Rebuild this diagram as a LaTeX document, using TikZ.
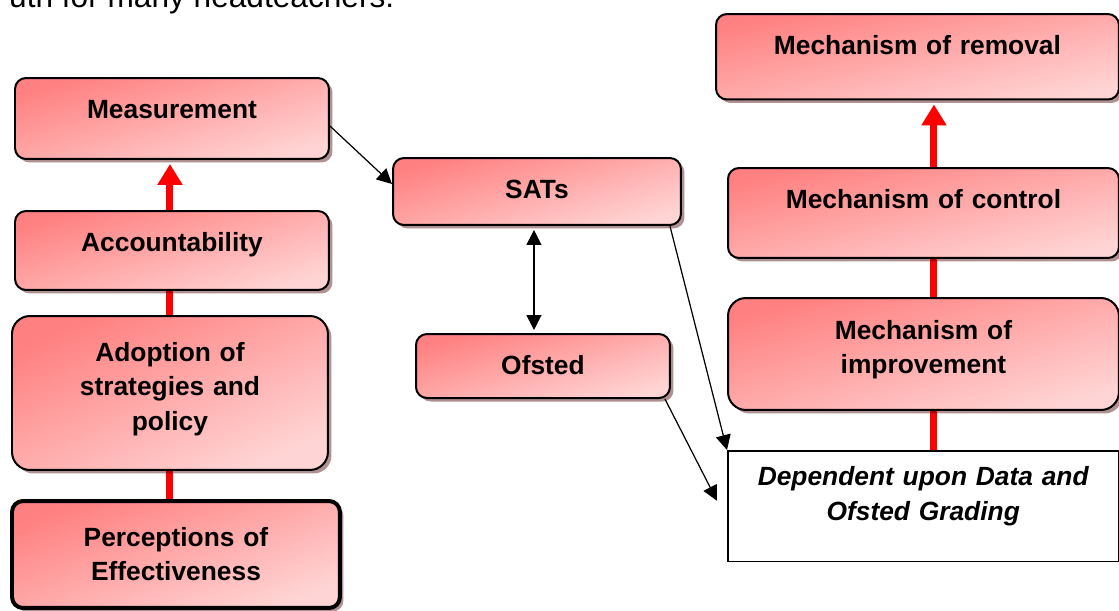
\documentclass[tikz,border=0pt]{standalone}
\usepackage{fontspec}
\setmainfont{Liberation Sans}
\usetikzlibrary{arrows.meta,shadows,backgrounds}
\definecolor{boxdark}{RGB}{255,128,128}
\definecolor{boxlight}{RGB}{255,212,212}
\definecolor{shadowc}{RGB}{80,10,10}
\definecolor{linkred}{RGB}{255,0,0}
\begin{document}
\begin{tikzpicture}
	[x=0.02cm, y=-0.02cm,
	>={Triangle[length=0.3cm, width=0.3cm]},
	box/.style={draw, line width=0.04cm, rounded corners=0.22cm,
		top color=boxdark, bottom color=boxlight, shading angle=16,
		drop shadow={shadow xshift=0.07cm, shadow yshift=-0.07cm,
			fill=shadowc, opacity=0.45},
		anchor=north west, inner xsep=0pt, inner ysep=0pt, align=center,
		text height=0.8cm, font=\fontsize{15}{19.5}\selectfont\bfseries},
	plainbox/.style={draw, line width=0.03cm, fill=white,
		anchor=north west, inner xsep=0pt, inner ysep=0pt, align=center,
		text height=0.7cm, font=\fontsize{15}{19.5}\selectfont\bfseries\itshape},
	rise/.style={line width=0.14cm, draw=linkred},
	risearrow/.style={rise, -{Triangle[length=0.42cm, width=0.48cm]},
		shorten >=0.08cm},
	link/.style={line width=0.7pt}]
	\useasboundingbox (0,0) rectangle (1119,610);
	\node[anchor=base west, font=\fontsize{18}{22}\selectfont] (intro) at (3,7)
		{uth for many headteachers.};
	\node[box, text width=6.28cm, text depth=0.82cm] (meas) at (14,77) {Measurement};
	\node[box, text width=6.28cm, text depth=0.78cm] (acc) at (14,210) {Accountability};
	\node[box, text width=6.32cm, text height=0.91cm, text depth=2.17cm,
		rounded corners=0.36cm, shading angle=24] (adopt) at (11,315)
		{Adoption of\\strategies and\\policy};
	\node[box, line width=0.08cm, text width=6.56cm, text height=0.91cm,
		text depth=1.23cm, shading angle=20] (perc) at (10,499) {Perceptions of\\Effectiveness};
	\node[box, text width=5.76cm, text depth=0.54cm] (sats) at (392,157) {SATs};
	\node[box, text width=5.08cm, text depth=0.48cm] (ofsted) at (415,333) {Ofsted};
	\node[box, text width=8.06cm, text depth=0.91cm, shading angle=12] (removal) at (715,13)
		{Mechanism of removal};
	\node[box, text width=7.82cm, text depth=1.0cm, shading angle=13] (control) at (727,167)
		{Mechanism of control};
	\node[box, text width=7.82cm, text height=0.83cm, text depth=1.41cm,
		rounded corners=0.36cm] (improve) at (727,297) {Mechanism of\\improvement};
	\node[plainbox, text width=7.82cm, text depth=1.52cm] (depend) at (727,450)
		{Dependent upon Data and\\Ofsted Grading};
	\begin{scope}[on background layer]
		\draw[rise] (adopt.north) -- (adopt.north |- acc.south);
		\draw[rise] (adopt.south) -- (adopt.south |- perc.north);
		\draw[rise] ([xshift=0.21cm]improve.north) -- ([xshift=0.21cm]improve.north |- control.south);
		\draw[rise] ([xshift=0.21cm]depend.north) -- ([xshift=0.21cm]depend.north |- improve.south);
	\end{scope}
	\draw[risearrow] (adopt.north |- acc.north) -- (adopt.north |- meas.south);
	\draw[risearrow] ([xshift=0.21cm]control.north) -- ([xshift=0.21cm]control.north |- removal.south);
	\draw[link, ->] ([yshift=-0.15cm]meas.east) -- ([yshift=0.15cm]sats.west);
	\draw[link, <->, shorten <=0.08cm, shorten >=0.06cm] ([xshift=-0.06cm]sats.south)
		-- ([xshift=-0.06cm]sats.south |- ofsted.north);
	\draw[link, ->] ([xshift=-0.24cm]sats.south east) -- (depend.north west);
	\draw[link, ->] ([xshift=-0.12cm]ofsted.south east)
		-- ([xshift=-0.2cm, yshift=0.11cm]depend.west);
\end{tikzpicture}
\end{document}
